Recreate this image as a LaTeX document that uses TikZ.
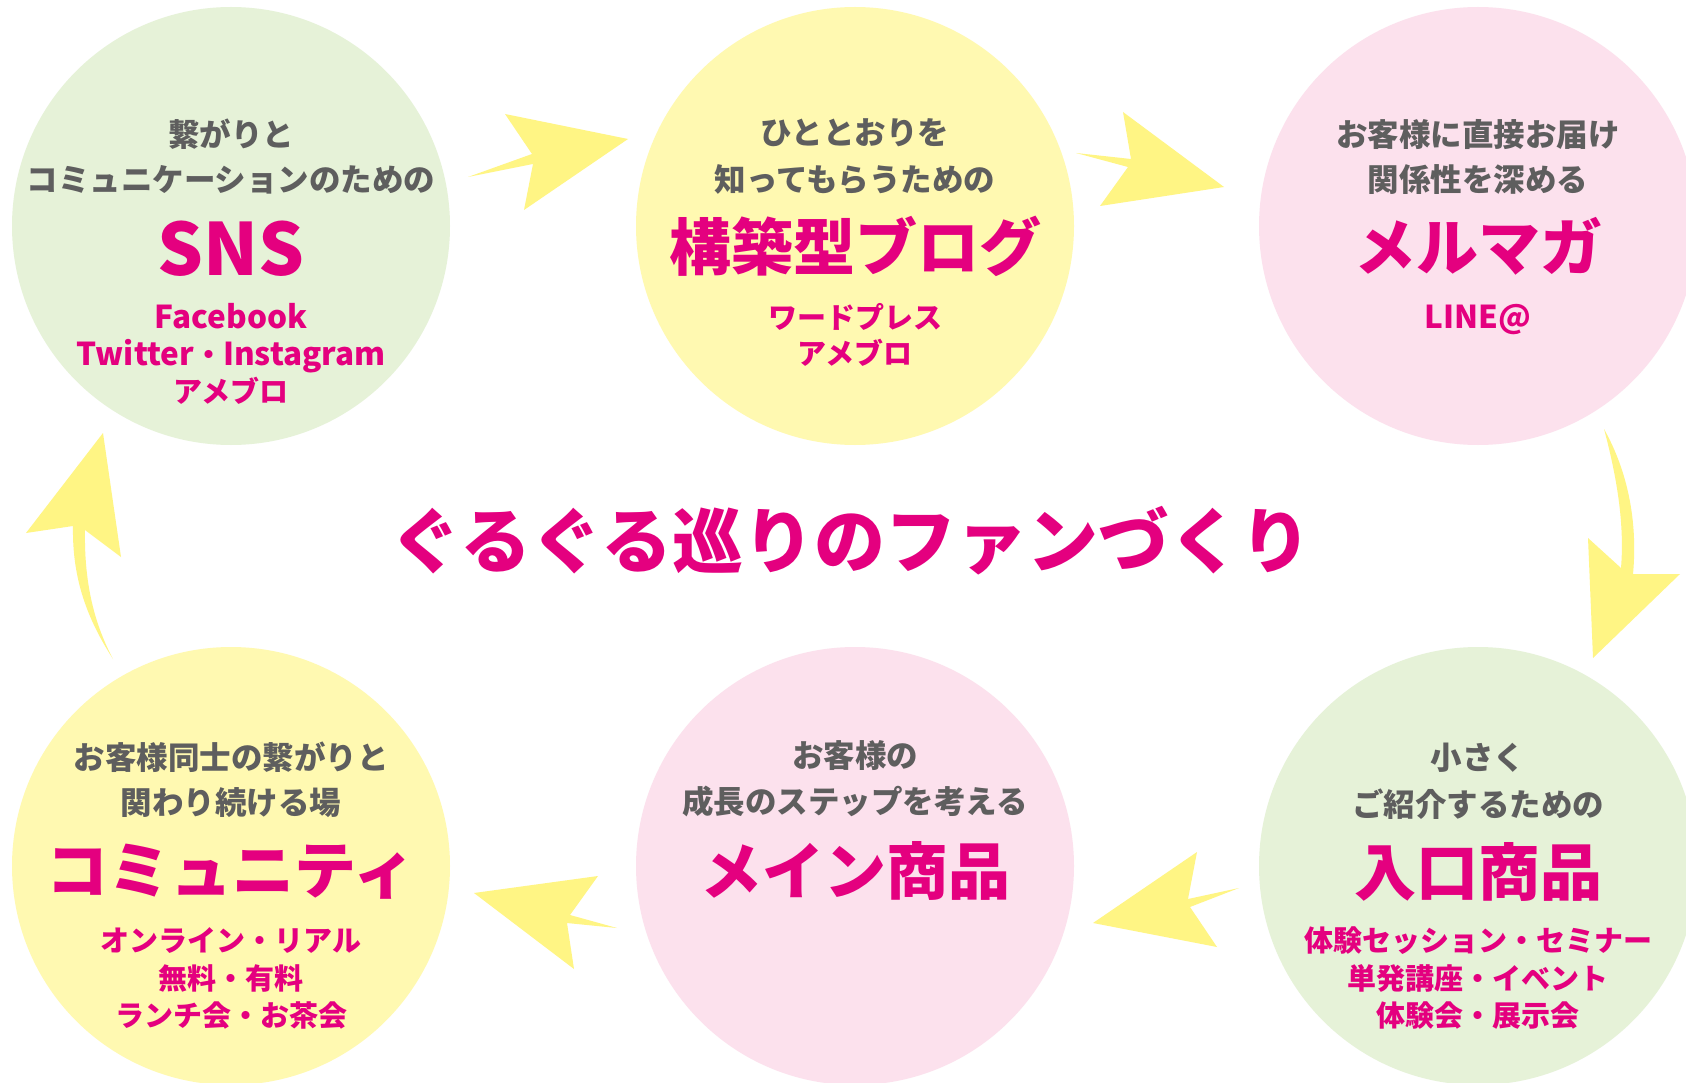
\documentclass[tikz,border=0pt]{standalone}
\usepackage{fontspec}
\newfontfamily\jp{Noto Sans CJK JP}
\definecolor{cgreen}{HTML}{E6F2D8}
\definecolor{cyellow}{HTML}{FFF9B1}
\definecolor{cpink}{HTML}{FCE1ED}
\definecolor{ayellow}{HTML}{FFF584}
\definecolor{mag}{HTML}{E4007F}
\definecolor{tgrey}{HTML}{5E5E5E}
\tikzset{
  circ/.style={circle, minimum size=438pt, inner sep=0, draw=none},
  greytxt/.style={text=tgrey, inner sep=0, font=\jp\bfseries\fontsize{31.5}{31.5}\selectfont, text height=27.7pt, text depth=3.8pt},
  subtxt/.style={text=mag, inner sep=0, font=\jp\bfseries\fontsize{29}{29}\selectfont, text height=25.5pt, text depth=3.5pt},
  lattxt/.style={text=mag, inner sep=0, font=\jp\bfseries\fontsize{31.5}{31.5}\selectfont, text height=25.5pt, text depth=3.5pt},
  ttltxt/.style={text=mag, inner sep=0, font=\jp\bfseries\fontsize{62}{62}\selectfont, text height=54.6pt, text depth=7.4pt},
  snstxt/.style={text=mag, inner sep=0, font=\jp\bfseries\fontsize{72}{72}\selectfont, text height=63.4pt, text depth=8.6pt},
  centertxt/.style={text=mag, inner sep=0, font=\jp\bfseries\fontsize{71}{71}\selectfont, text height=62.5pt, text depth=8.5pt},
  arrowshape/.style={fill=ayellow, draw=none}
}
\begin{document}
\begin{tikzpicture}[x=1pt, y=-1pt]
\useasboundingbox (0,0) rectangle (1686,1083);
\clip (0,0) rectangle (1686,1083);
\fill[white] (0,0) rectangle (1686,1083);
% circles
\node[circ, fill=cgreen]  (c1) at (231,226) {};
\node[circ, fill=cyellow] (c2) at (855,226) {};
\node[circ, fill=cpink]   (c3) at (1478,226) {};
\node[circ, fill=cyellow] (c4) at (231,866) {};
\node[circ, fill=cpink]   (c5) at (855,866) {};
\node[circ, fill=cgreen]  (c6) at (1478,866) {};
% arrows
\fill[arrowshape] (468,177) -- (532,154) -- (505,114) -- (628,139) -- (524,210) -- (533,164) -- cycle;
\fill[arrowshape] (1076,153) -- (1131,159) -- (1123,112) -- (1224,187) -- (1100,206) -- (1128,167) -- cycle;
\fill[arrowshape] (1604,429) .. controls (1627,470) and (1638,520) .. (1633,574) -- (1680,574) -- (1593,658) -- (1588,538) -- (1621,568) .. controls (1625,520) and (1615,470) .. cycle;
\fill[arrowshape] (113,659) .. controls (95,625) and (84,585) .. (85,530) -- (121,557) -- (103,433) -- (26,533) -- (73,526) .. controls (72,580) and (88,620) .. cycle;
\fill[arrowshape] (1239,888) -- (1188,899) -- (1197,852) -- (1093,923) -- (1217,947) -- (1190,907) -- cycle;
\fill[arrowshape] (617,928) -- (570,915) -- (598,876) -- (474,893) -- (574,969) -- (567,923) -- cycle;
% circle 1
\node[greytxt] (c1a) at (231,135) {繋がりと};
\node[greytxt] (c1b) at (231,180) {コミュニケーションのための};
\node[snstxt]  (c1t) at (231,248) {SNS};
\node[lattxt]  (c1c) at (231,317) {Facebook};
\node[lattxt]  (c1d) at (231,354) {Twitter{\fontsize{29}{29}\selectfont ・}Instagram};
\node[subtxt]  (c1e) at (231,391) {アメブロ};
% circle 2
\node[greytxt] (c2a) at (855,133) {ひととおりを};
\node[greytxt] (c2b) at (855,180) {知ってもらうための};
\node[ttltxt]  (c2t) at (855,247) {構築型ブログ};
\node[subtxt]  (c2c) at (855,317) {ワードプレス};
\node[subtxt]  (c2d) at (855,353) {アメブロ};
% circle 3
\node[greytxt] (c3a) at (1478,135) {お客様に直接お届け};
\node[greytxt] (c3b) at (1478,180) {関係性を深める};
\node[ttltxt]  (c3t) at (1478,247) {メルマガ};
\node[lattxt]  (c3c) at (1478,317) {LINE@};
% circle 4
\node[greytxt] (c4a) at (231,758) {お客様同士の繋がりと};
\node[greytxt] (c4b) at (231,803) {関わり続ける場};
\node[ttltxt]  (c4t) at (231,870) {コミュニティ};
\node[subtxt]  (c4c) at (231,940) {オンライン・リアル};
\node[subtxt]  (c4d) at (231,978) {無料・有料};
\node[subtxt]  (c4e) at (231,1015) {ランチ会・お茶会};
% circle 5
\node[greytxt] (c5a) at (855,756) {お客様の};
\node[greytxt] (c5b) at (855,802) {成長のステップを考える};
\node[ttltxt]  (c5t) at (855,871) {メイン商品};
% circle 6
\node[greytxt] (c6a) at (1478,758) {小さく};
\node[greytxt] (c6b) at (1478,805) {ご紹介するための};
\node[ttltxt]  (c6t) at (1478,872) {入口商品};
\node[subtxt]  (c6c) at (1478,940) {体験セッション・セミナー};
\node[subtxt]  (c6d) at (1478,978) {単発講座・イベント};
\node[subtxt]  (c6e) at (1478,1015) {体験会・展示会};
% centre title
\node[centertxt] (title) at (851,540) {ぐるぐる巡りのファンづくり};
\end{tikzpicture}
\end{document}
